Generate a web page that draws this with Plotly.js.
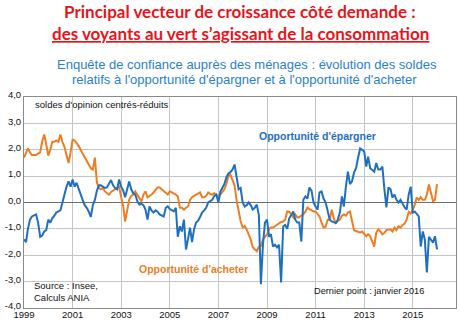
<!DOCTYPE html>
<html>
<head>
<meta charset="utf-8">
<script src="https://cdn.plot.ly/plotly-3.0.1.min.js"></script>
<style>html,body{margin:0;padding:0;background:#fff;}#chart{width:460px;height:321px;}</style>
</head>
<body>
<div id="chart"></div>
<script>
// Monthly series, January 1999 .. January 2016
const startYear = 1999;
const epargner = [
 -1.4,-1.5,-1.0,-0.65,-0.53,-0.5,-0.45,-0.76,-1.3,-1.25,-1.1,-1.05,
 -0.65,-0.76,-0.6,-0.5,-0.38,-0.34,-0.3,0.0,0.35,0.6,0.8,0.6,
 0.87,0.6,0.75,0.5,0.3,0.1,-0.1,-0.2,-0.35,-0.55,-0.1,0.1,
 0.45,0.65,0.65,0.6,0.55,0.57,0.7,0.85,0.65,0.55,0.5,0.87,
 0.6,0.45,0.2,0.5,0.8,0.5,0.35,0.3,0.05,-0.08,-0.05,-0.1,
 -0.27,-0.65,-0.15,-0.3,-0.38,-0.3,-0.35,-0.45,-0.5,-0.53,-0.2,-0.15,
 -0.25,-0.3,-0.34,-0.2,-1.3,-0.9,-1.1,-0.65,-1.78,-1.4,-0.95,-1.5,
 -1.0,-0.76,-0.7,-0.55,-0.38,-0.3,-0.2,0.0,0.05,0.1,0.25,0.3,
 0.0,0.42,0.55,0.7,0.95,1.1,1.15,1.25,1.44,1.0,0.5,0.55,
 0.0,-0.15,-0.1,0.0,-0.1,-0.27,-0.2,-0.08,-0.5,-3.1,-1.6,-0.76,
 -0.65,-1.3,-1.2,-1.67,-1.6,-1.7,-1.6,-3.03,-0.9,-0.85,-1.0,-0.6,
 -0.45,-0.34,-0.65,-0.76,-0.76,-1.48,0.1,0.23,0.15,0.57,0.45,0.0,
 -0.15,-0.27,0.38,0.42,0.15,0.0,-0.3,-0.65,-0.72,-0.76,-0.78,-0.65,
 -0.38,0.23,-0.15,0.6,1.17,0.7,0.8,1.13,1.3,1.7,2.05,2.0,
 1.93,1.36,1.74,1.3,1.25,1.17,1.5,1.25,1.25,1.36,0.5,-0.19,
 0.57,0.5,0.19,0.3,0.1,0.0,0.1,-0.08,-0.19,-0.27,0.3,0.6,
 -0.38,-0.35,-0.45,-0.53,-1.67,-1.1,-1.4,-2.65,-1.3,-1.4,-1.52,-1.28,
 -1.78
];
const acheter = [
 1.7,1.9,2.05,1.9,1.8,1.8,1.8,1.85,1.9,2.3,2.58,2.2,
 1.78,2.0,2.3,2.3,2.35,2.3,2.58,2.3,2.1,1.8,1.5,1.9,
 2.38,2.35,2.27,2.15,2.0,1.85,1.75,1.55,1.4,1.3,1.25,1.7,
 0.76,0.55,0.5,0.55,0.42,0.35,0.3,0.4,0.45,0.5,0.55,0.6,
 0.2,-0.15,-0.72,-0.3,0.1,0.25,0.3,0.42,0.3,0.15,0.04,0.3,
 0.42,0.19,0.23,0.3,0.38,0.5,0.57,0.57,0.5,0.45,0.35,0.3,
 0.42,0.38,0.35,0.3,0.23,-0.19,-0.2,-0.27,-0.2,-0.15,0.1,0.2,
 0.25,0.3,0.35,0.38,0.2,0.2,0.25,0.38,0.32,0.3,0.35,0.3,
 0.23,0.3,0.38,0.5,0.7,1.0,1.06,0.85,0.65,0.1,-0.35,-0.7,
 -0.95,-0.9,-1.02,-1.2,-1.4,-1.7,-1.78,-1.85,-1.68,-1.65,-1.4,-1.3,
 -1.21,-1.0,-0.95,-0.95,-0.9,-0.83,-0.8,-0.74,-0.72,-0.65,-0.34,-0.35,
 -0.45,-0.57,-0.45,-0.57,-0.55,-0.5,-0.45,-0.35,-0.19,-0.25,-0.3,-0.34,
 -0.34,-0.45,-0.53,-0.76,-0.95,-0.92,-0.65,-0.65,-0.27,-0.6,-0.78,-0.7,
 -0.65,-0.5,-0.45,-0.5,-0.38,-0.34,-0.72,-1.05,-1.08,-1.1,-1.14,-1.1,
 -1.2,-1.28,-1.2,-1.28,-1.48,-1.67,-1.14,-1.02,-1.1,-1.21,-1.15,-1.05,
 -1.02,-1.02,-1.1,-0.95,-1.05,-0.9,-0.95,-0.85,-0.8,-0.65,-0.36,-0.42,
 -0.27,-0.08,0.19,0.1,0.2,0.1,0.1,0.3,0.68,0.3,0.05,0.1,
 0.7
];
const xTickYears = ['1999','2001','2003','2005','2007','2009','2011','2013','2015'];
const yTickVals = [4,3,2,1,0,-1,-2,-3,-4];
const yTickText = ['4,0','3,0','2,0','1,0','0,0','-1,0','-2,0','-3,0','-4,0'];

const months = epargner.map((_, i) => {
  const y = startYear + Math.floor(i / 12);
  const m = (i % 12) + 1;
  return y + '-' + String(m).padStart(2, '0') + '-01';
});

const BLUE = '#1f6fc1';
const ORANGE = '#f07d22';
const RED = '#e8141b';
const SUBBLUE = '#2a7fca';

// pixel helpers for annotation placement (plot area: x 24..456, y 97..308)
const PL = 24, PR = 456, PT = 97, PB = 308;
const px = x => (x - PL) / (PR - PL);
const py = y => (PB - y) / (PB - PT);

const traces = [
  {x: months, y: acheter, type: 'scatter', mode: 'lines', name: "Opportunité d'acheter",
   line: {color: ORANGE, width: 2}},
  {x: months, y: epargner, type: 'scatter', mode: 'lines', name: "Opportunité d'épargner",
   line: {color: BLUE, width: 2}}
];

const ann = (text, x, y, opts) => Object.assign({
  text: text, xref: 'paper', yref: 'paper', x: px(x), y: py(y),
  showarrow: false, xanchor: 'left', yanchor: 'middle',
  font: {family: 'Liberation Sans, Arial, sans-serif', size: 9.5, color: '#111'}
}, opts || {});

const layout = {
  width: 460, height: 321,
  margin: {l: PL, r: 460 - PR, t: PT, b: 321 - PB},
  paper_bgcolor: '#fff', plot_bgcolor: '#fff',
  showlegend: false,
  xaxis: {
    type: 'date',
    range: ['1999-01-01', '2016-10-12'],
    tickvals: xTickYears.map(y => y + '-01-01'),
    ticktext: xTickYears,
    showgrid: true, gridcolor: '#c4c4c4', gridwidth: 1,
    zeroline: false,
    showline: true, linecolor: '#8a8a8a', linewidth: 1, mirror: true,
    ticks: '', ticklabelstandoff: -2,
    tickfont: {family: 'Liberation Sans, Arial, sans-serif', size: 9.5, color: '#111'}
  },
  yaxis: {
    range: [-4, 4],
    tickvals: yTickVals, ticktext: yTickText,
    showgrid: true, gridcolor: '#c4c4c4', gridwidth: 1,
    zeroline: true, zerolinecolor: '#6e6e6e', zerolinewidth: 1.5,
    showline: true, linecolor: '#8a8a8a', linewidth: 1, mirror: true,
    ticks: '', ticklabelshift: -2,
    tickfont: {family: 'Liberation Sans, Arial, sans-serif', size: 9.5, color: '#111'}
  },
  annotations: [
    ann('<b>Principal vecteur de croissance côté demande :</b>', 240, 11,
        {xanchor: 'center', font: {family: 'Lato, sans-serif', size: 17, color: RED}}),
    ann('<b><u>des voyants au vert s’agissant de la consommation</u></b>', 240, 33,
        {xanchor: 'center', font: {family: 'Lato, sans-serif', size: 17, color: RED}}),
    ann('Enquête de confiance auprès des ménages : évolution des soldes', 247, 64,
        {xanchor: 'center', font: {family: 'Liberation Sans, Arial, sans-serif', size: 13, color: SUBBLUE}}),
    ann("relatifs à l'opportunité d'épargner et à l'opportunité d'acheter", 244, 80,
        {xanchor: 'center', font: {family: 'Liberation Sans, Arial, sans-serif', size: 13, color: SUBBLUE}}),
    ann("soldes d'opinion centrés-réduits", 33, 105),
    ann("<b>Opportunité d'épargner</b>", 257, 136,
        {font: {family: 'Liberation Sans, Arial, sans-serif', size: 10.5, color: BLUE}}),
    ann("<b>Opportunité d'acheter</b>", 137, 269,
        {font: {family: 'Liberation Sans, Arial, sans-serif', size: 10.5, color: ORANGE}}),
    ann('Source : Insee,<br>Calculs ANIA', 32, 291, {align: 'left'}),
    ann('Dernier point : janvier 2016', 312, 291,
        {font: {family: 'Liberation Sans, Arial, sans-serif', size: 9.2, color: '#111'}})
  ]
};

Plotly.newPlot('chart', traces, layout, {staticPlot: true, displayModeBar: false});
</script>
</body>
</html>
